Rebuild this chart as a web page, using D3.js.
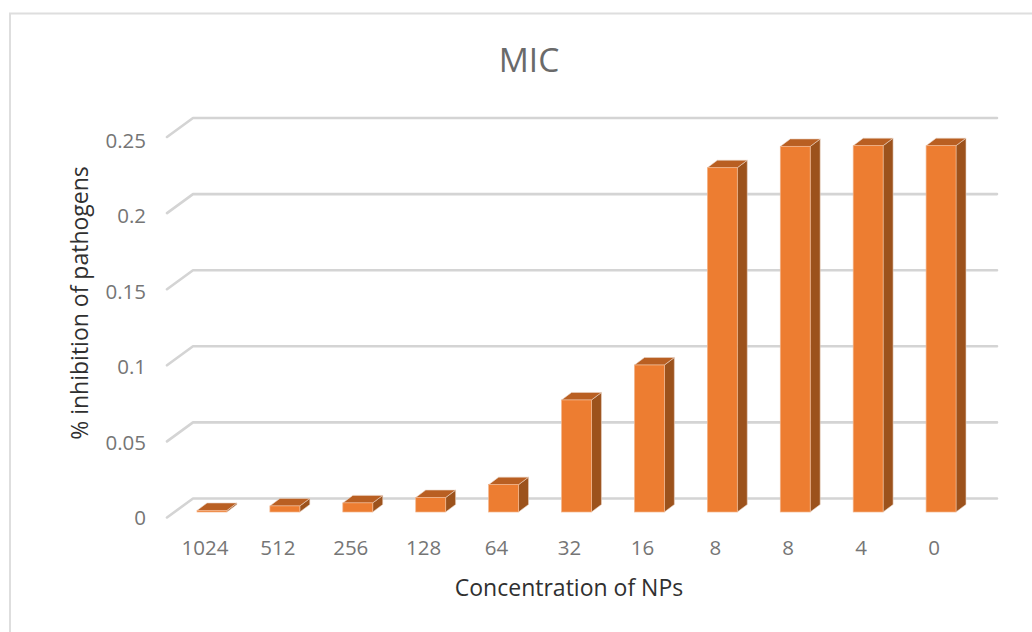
<!DOCTYPE html>
<html><head><meta charset="utf-8">
<script src="https://cdn.jsdelivr.net/npm/d3@7/dist/d3.min.js"></script>
<style>html,body{margin:0;padding:0;background:#fff}svg{display:block}text{font-family:"Open Sans",sans-serif}</style>
</head><body><svg id="c" width="1032" height="632"></svg>
<script>
const categories=["1024","512","256","128","64","32","16","8","8","4","0"];
const values=[0.001,0.004,0.006,0.0095,0.018,0.0737,0.0967,0.2265,0.2405,0.241,0.241];
const yTicks=[0,0.05,0.1,0.15,0.2,0.25];
const yLabels=["0","0.05","0.1","0.15","0.2","0.25"];
const title="MIC", xTitle="Concentration of NPs", yTitle="% inhibition of pathogens";

const svg=d3.select("#c");
// chart frame
svg.append("path").attr("d","M10,632V13.5H1032").attr("fill","none").attr("stroke","#dedede").attr("stroke-width",2);

const x=d3.scaleBand().domain(d3.range(categories.length)).range([175.5,977.5]).paddingInner(0.59).paddingOuter(0.295);
const yBar=d3.scaleLinear().domain([0,0.25]).range([512,132]);
const yBack=d3.scaleLinear().domain([0,0.25]).range([498.5,118]);
const yLab=d3.scaleLinear().domain([0,0.25]).range([525,148]);
const dxWall=26, dyWall=19, dxBar=10, dyBar=7.5;

// gridlines
const grid=svg.append("g").attr("fill","none").attr("stroke","#d4d4d4").attr("stroke-width",2.6).attr("stroke-linejoin","round").attr("stroke-linecap","round");
yTicks.forEach(t=>{
  const yb=yBack(t);
  grid.append("path").attr("d",`M167,${yb+dyWall}L193,${yb}H997`);
});

// bars
const bars=svg.append("g");
values.forEach((v,i)=>{
  const x0=x(i),w=x.bandwidth(),y0=yBar(0),yt=yBar(v);
  bars.append("path").attr("fill","#9c521c").attr("stroke","#e9d3c4").attr("stroke-width",0.6)
    .attr("d",`M${x0+w},${y0}L${x0+w+dxBar},${y0-dyBar}V${yt-dyBar}L${x0+w},${yt}Z`);
  bars.append("path").attr("fill","#b95f22").attr("stroke","#e9d3c4").attr("stroke-width",0.6)
    .attr("d",`M${x0},${yt}L${x0+dxBar},${yt-dyBar}H${x0+w+dxBar}L${x0+w},${yt}Z`);
  bars.append("rect").attr("x",x0).attr("y",yt).attr("width",w).attr("height",y0-yt).attr("fill","#ed7d31").attr("stroke","#f2b48a").attr("stroke-width",0.7);
});

// labels
const tc="#757575";
svg.append("g").selectAll("text").data(categories).join("text")
  .attr("x",(d,i)=>x(i)+x.bandwidth()/2-7).attr("y",555).attr("text-anchor","middle")
  .attr("font-size",20.5).attr("fill",tc).text(d=>d);
svg.append("g").selectAll("text").data(yTicks).join("text")
  .attr("x",146).attr("y",t=>yLab(t)).attr("text-anchor","end")
  .attr("font-size",20.5).attr("fill",tc).text((t,i)=>yLabels[i]);
svg.append("text").attr("x",529).attr("y",72).attr("text-anchor","middle").attr("font-size",33.5).attr("fill","#6a6a6a").text(title);
svg.append("text").attr("x",569).attr("y",596).attr("text-anchor","middle").attr("font-size",23).attr("fill","#303030").text(xTitle);
svg.append("text").attr("transform","translate(88,303) rotate(-90)").attr("text-anchor","middle").attr("font-size",23).attr("fill","#303030").text(yTitle);
</script></body></html>
